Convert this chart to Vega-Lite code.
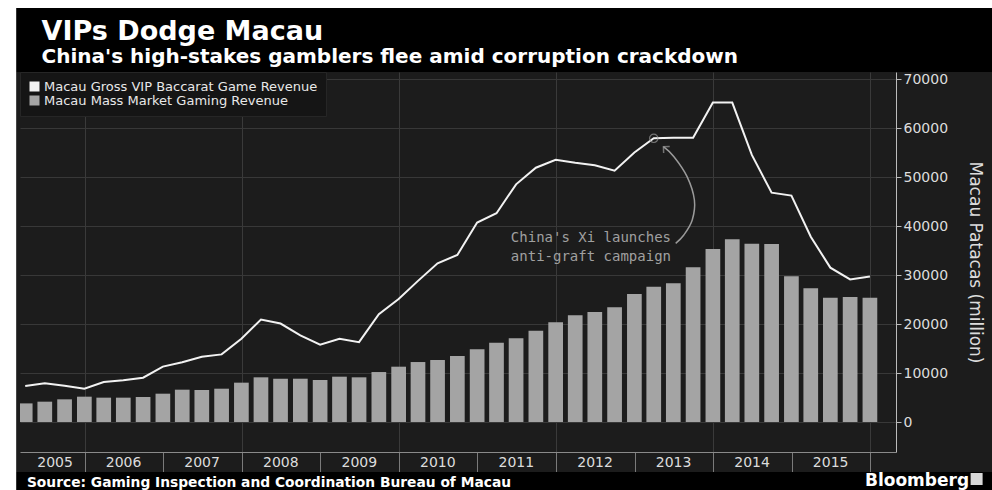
{
  "$schema": "https://vega.github.io/schema/vega-lite/v6.json",
  "width": 876,
  "height": 380,
  "autosize": {"type": "none"},
  "padding": {"left": 20, "top": 72, "right": 96, "bottom": 38},
  "background": "#1c1c1c",
  "config": {
    "font": "DejaVu Sans",
    "view": {"stroke": null, "fill": "#1c1c1c"}
  },
  "data": {
    "values": [
      {"date": "2005-03-31", "vip": 7350, "mass": 3800},
      {"date": "2005-06-30", "vip": 7900, "mass": 4150},
      {"date": "2005-09-30", "vip": 7400, "mass": 4630},
      {"date": "2005-12-31", "vip": 6800, "mass": 5170},
      {"date": "2006-03-31", "vip": 8150, "mass": 4970},
      {"date": "2006-06-30", "vip": 8500, "mass": 4970},
      {"date": "2006-09-30", "vip": 9050, "mass": 5100},
      {"date": "2006-12-31", "vip": 11300, "mass": 5780},
      {"date": "2007-03-31", "vip": 12200, "mass": 6600},
      {"date": "2007-06-30", "vip": 13300, "mass": 6530},
      {"date": "2007-09-30", "vip": 13800, "mass": 6800},
      {"date": "2007-12-31", "vip": 17000, "mass": 8030},
      {"date": "2008-03-31", "vip": 20900, "mass": 9120},
      {"date": "2008-06-30", "vip": 20100, "mass": 8840},
      {"date": "2008-09-30", "vip": 17700, "mass": 8840},
      {"date": "2008-12-31", "vip": 15800, "mass": 8570},
      {"date": "2009-03-31", "vip": 17000, "mass": 9250},
      {"date": "2009-06-30", "vip": 16300, "mass": 9120},
      {"date": "2009-09-30", "vip": 22000, "mass": 10200},
      {"date": "2009-12-31", "vip": 25100, "mass": 11290},
      {"date": "2010-03-31", "vip": 28800, "mass": 12240},
      {"date": "2010-06-30", "vip": 32400, "mass": 12650},
      {"date": "2010-09-30", "vip": 34100, "mass": 13470},
      {"date": "2010-12-31", "vip": 40700, "mass": 14830},
      {"date": "2011-03-31", "vip": 42600, "mass": 16190},
      {"date": "2011-06-30", "vip": 48500, "mass": 17080},
      {"date": "2011-09-30", "vip": 51900, "mass": 18640},
      {"date": "2011-12-31", "vip": 53500, "mass": 20340},
      {"date": "2012-03-31", "vip": 52900, "mass": 21770},
      {"date": "2012-06-30", "vip": 52400, "mass": 22450},
      {"date": "2012-09-30", "vip": 51300, "mass": 23410},
      {"date": "2012-12-31", "vip": 55000, "mass": 26120},
      {"date": "2013-03-31", "vip": 57900, "mass": 27620},
      {"date": "2013-06-30", "vip": 58000, "mass": 28300},
      {"date": "2013-09-30", "vip": 58000, "mass": 31570},
      {"date": "2013-12-31", "vip": 65200, "mass": 35300},
      {"date": "2014-03-31", "vip": 65200, "mass": 37280},
      {"date": "2014-06-30", "vip": 54500, "mass": 36400},
      {"date": "2014-09-30", "vip": 46800, "mass": 36330},
      {"date": "2014-12-31", "vip": 46200, "mass": 29730},
      {"date": "2015-03-31", "vip": 37800, "mass": 27280},
      {"date": "2015-06-30", "vip": 31500, "mass": 25370},
      {"date": "2015-09-30", "vip": 29100, "mass": 25510},
      {"date": "2015-12-31", "vip": 29700, "mass": 25370}
    ]
  },
  "layer": [
    {
      "mark": {"type": "bar", "size": 14.7, "clip": true},
      "encoding": {
        "x": {
          "field": "date",
          "type": "temporal",
          "scale": {
            "domain": [
              {"year": 2005, "month": 3, "date": 30, "utc": true},
              {"year": 2016, "month": 4, "date": 7, "utc": true}
            ],
            "nice": false
          },
          "axis": {
            "orient": "bottom",
            "title": null,
            "values": [
              {"year": 2006, "month": 1, "date": 1, "utc": true},
              {"year": 2007, "month": 1, "date": 1, "utc": true},
              {"year": 2008, "month": 1, "date": 1, "utc": true},
              {"year": 2009, "month": 1, "date": 1, "utc": true},
              {"year": 2010, "month": 1, "date": 1, "utc": true},
              {"year": 2011, "month": 1, "date": 1, "utc": true},
              {"year": 2012, "month": 1, "date": 1, "utc": true},
              {"year": 2013, "month": 1, "date": 1, "utc": true},
              {"year": 2014, "month": 1, "date": 1, "utc": true},
              {"year": 2015, "month": 1, "date": 1, "utc": true},
              {"year": 2016, "month": 1, "date": 1, "utc": true}
            ],
            "labelExpr": "toString(utcyear(datum.value) - 1)",
            "labelOffset": {"condition": {"test": "utcyear(datum.value) === 2006", "value": -30}, "value": -40},
            "labelAngle": 0,
            "labelBaseline": "middle",
            "labelPadding": -10,
            "labelFont": "DejaVu Sans",
            "labelFontSize": 14,
            "labelColor": "#dcdcdc",
            "labelFlush": false,
            "labelOverlap": false,
            "labelBound": false,
            "tickSize": 20,
            "tickColor": "#7a7a7a",
            "tickWidth": 1,
            "domainColor": "#8a8a8a",
            "domainWidth": 1,
            "grid": true,
            "gridColor": "#3a3a3a",
            "gridWidth": 1,
            "gridOpacity": {"condition": {"test": "utcyear(datum.value) % 2 === 1", "value": 0}, "value": 1}
          }
        },
        "y": {
          "field": "mass",
          "type": "quantitative",
          "scale": {"domain": [-6120, 71430], "nice": false, "zero": false},
          "axis": {
            "orient": "right",
            "title": "Macau Patacas (million)",
            "titleFont": "DejaVu Sans",
            "titleFontSize": 17,
            "titleFontWeight": "normal",
            "titleColor": "#dcdcdc",
            "titlePadding": 18,
            "values": [0, 10000, 20000, 30000, 40000, 50000, 60000, 70000],
            "format": "d",
            "labelFont": "DejaVu Sans",
            "labelFontSize": 14,
            "labelColor": "#dcdcdc",
            "labelPadding": 2,
            "labelBaseline": "middle",
            "labelFlush": false,
            "labelOverlap": false,
            "tickSize": 5,
            "tickColor": "#bbbbbb",
            "domainColor": "#bbbbbb",
            "grid": true,
            "gridColor": "#383838",
            "gridWidth": 1
          }
        },
        "color": {
          "datum": "Macau Mass Market Gaming Revenue",
          "type": "nominal",
          "scale": {
            "domain": ["Macau Gross VIP Baccarat Game Revenue", "Macau Mass Market Gaming Revenue"],
            "range": ["#f2f2f2", "#a4a4a4"]
          },
          "legend": {
            "orient": "top-left",
            "offset": 0,
            "title": null,
            "fillColor": "#151515",
            "strokeColor": "#262626",
            "padding": 8,
            "symbolType": "square",
            "symbolSize": 100,
            "symbolStrokeWidth": 0,
            "labelColor": "#e8e8e8",
            "labelFont": "DejaVu Sans",
            "labelFontSize": 13,
            "labelLimit": 400,
            "labelOffset": 3,
            "rowPadding": 0
          }
        }
      }
    },
    {
      "mark": {"type": "line", "color": "#f2f2f2", "strokeWidth": 2, "clip": true},
      "encoding": {
        "x": {"field": "date", "type": "temporal"},
        "y": {"field": "vip", "type": "quantitative"}
      }
    },
    {
      "data": {"values": [{}]},
      "mark": {"type": "point", "shape": "circle", "size": 70, "filled": false, "stroke": "#9a9a9a", "strokeWidth": 1.2},
      "encoding": {
        "x": {"datum": {"year": 2013, "month": 3, "date": 31, "utc": true}, "type": "temporal"},
        "y": {"datum": 57900, "type": "quantitative"}
      }
    },
    {
      "data": {
        "values": [
          {"k": 0, "date": "2013-07-11", "v": 36470},
          {"k": 1, "date": "2013-08-18", "v": 38170},
          {"k": 2, "date": "2013-09-26", "v": 41230},
          {"k": 3, "date": "2013-10-06", "v": 45310},
          {"k": 4, "date": "2013-09-02", "v": 50070},
          {"k": 5, "date": "2013-07-03", "v": 54150},
          {"k": 6, "date": "2013-05-15", "v": 56190}
        ]
      },
      "mark": {"type": "line", "interpolate": "cardinal", "color": "#9a9a9a", "strokeWidth": 1.5},
      "encoding": {
        "x": {"field": "date", "type": "temporal"},
        "y": {"field": "v", "type": "quantitative"},
        "order": {"field": "k", "type": "quantitative"}
      }
    },
    {
      "data": {"values": [{}]},
      "mark": {"type": "point", "shape": "M-1,1L0,0L1,1", "size": 80, "filled": false, "stroke": "#9a9a9a", "strokeWidth": 1.5, "angle": 313},
      "encoding": {
        "x": {"datum": {"year": 2013, "month": 5, "date": 15, "utc": true}, "type": "temporal"},
        "y": {"datum": 56190, "type": "quantitative"}
      }
    },
    {
      "data": {"values": [{}]},
      "mark": {"type": "text", "text": ["China's Xi launches", "anti-graft campaign"], "align": "center", "baseline": "alphabetic", "font": "DejaVu Sans Mono", "fontSize": 14, "lineHeight": 19, "color": "#a0a0a0"},
      "encoding": {
        "x": {"datum": {"year": 2012, "month": 6, "date": 12, "utc": true}, "type": "temporal"},
        "y": {"datum": 36800, "type": "quantitative"}
      }
    },
    {
      "data": {"values": [{}]},
      "mark": {"type": "rect", "color": "#000000"},
      "encoding": {
        "x": {"datum": {"year": 2005, "month": 2, "date": 17, "utc": true}, "type": "temporal"},
        "x2": {"datum": {"year": 2018, "month": 1, "date": 1, "utc": true}},
        "y": {"datum": 71430, "type": "quantitative"},
        "y2": {"datum": 84490}
      }
    },
    {
      "data": {"values": [{}]},
      "mark": {"type": "rect", "color": "#000000"},
      "encoding": {
        "x": {"datum": {"year": 2005, "month": 2, "date": 17, "utc": true}, "type": "temporal"},
        "x2": {"datum": {"year": 2018, "month": 1, "date": 1, "utc": true}},
        "y": {"datum": -10204, "type": "quantitative"},
        "y2": {"datum": -30000}
      }
    },
    {
      "data": {"values": [{}]},
      "mark": {"type": "rect", "color": "#ffffff"},
      "encoding": {
        "x": {"datum": {"year": 2004, "month": 6, "date": 1, "utc": true}, "type": "temporal"},
        "x2": {"datum": {"year": 2005, "month": 2, "date": 17, "utc": true}},
        "y": {"datum": -30000, "type": "quantitative"},
        "y2": {"datum": 120000}
      }
    },
    {
      "data": {"values": [{}]},
      "mark": {"type": "rect", "color": "#ffffff"},
      "encoding": {
        "x": {"datum": {"year": 2004, "month": 6, "date": 1, "utc": true}, "type": "temporal"},
        "x2": {"datum": {"year": 2018, "month": 1, "date": 1, "utc": true}},
        "y": {"datum": 84490, "type": "quantitative"},
        "y2": {"datum": 120000}
      }
    },
    {
      "data": {"values": [{}]},
      "mark": {"type": "text", "text": "VIPs Dodge Macau", "align": "left", "baseline": "alphabetic", "font": "DejaVu Sans", "fontWeight": "bold", "fontSize": 27, "color": "#ffffff"},
      "encoding": {
        "x": {"datum": {"year": 2005, "month": 6, "date": 15, "utc": true}, "type": "temporal"},
        "y": {"datum": 77960, "type": "quantitative"}
      }
    },
    {
      "data": {"values": [{}]},
      "mark": {"type": "text", "text": "China's high-stakes gamblers flee amid corruption crackdown", "align": "left", "baseline": "alphabetic", "font": "DejaVu Sans", "fontWeight": "bold", "fontSize": 20, "color": "#ffffff"},
      "encoding": {
        "x": {"datum": {"year": 2005, "month": 6, "date": 15, "utc": true}, "type": "temporal"},
        "y": {"datum": 73300, "type": "quantitative"}
      }
    },
    {
      "data": {"values": [{}]},
      "mark": {"type": "text", "text": "Source: Gaming Inspection and Coordination Bureau of Macau", "align": "left", "baseline": "alphabetic", "font": "DejaVu Sans", "fontWeight": "bold", "fontSize": 13.8, "color": "#ffffff"},
      "encoding": {
        "x": {"datum": {"year": 2005, "month": 4, "date": 8, "utc": true}, "type": "temporal"},
        "y": {"datum": -13163, "type": "quantitative"}
      }
    },
    {
      "data": {"values": [{}]},
      "mark": {"type": "text", "text": "Bloomberg", "align": "left", "baseline": "alphabetic", "font": "DejaVu Sans", "fontWeight": "bold", "fontSize": 17, "color": "#ffffff"},
      "encoding": {
        "x": {"datum": {"year": 2015, "month": 12, "date": 8, "utc": true}, "type": "temporal"},
        "y": {"datum": -12957, "type": "quantitative"}
      }
    },
    {
      "data": {"values": [{}]},
      "mark": {"type": "point", "shape": "square", "size": 144, "filled": true, "color": "#d8d8d8", "opacity": 1},
      "encoding": {
        "x": {"datum": {"year": 2017, "month": 5, "date": 10, "utc": true}, "type": "temporal"},
        "y": {"datum": -11633, "type": "quantitative"}
      }
    }
  ]
}
